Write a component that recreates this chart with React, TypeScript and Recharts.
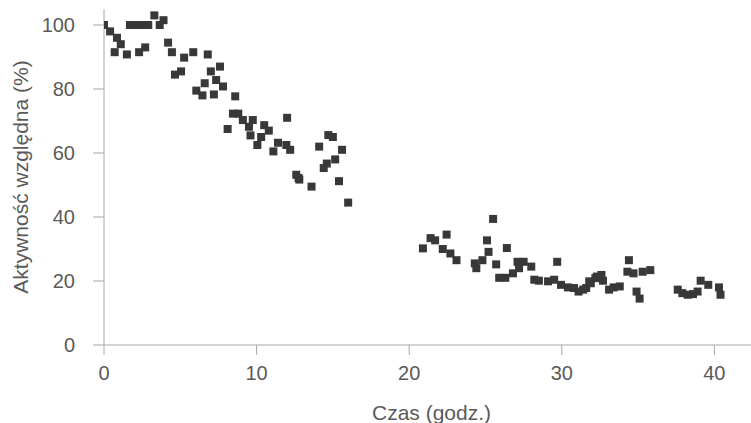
import React from "react";
import { ScatterChart, Scatter, XAxis, YAxis } from "recharts";

const hours: number[] = [
  0, 0.4, 0.85, 1.1, 0.7, 1.5, 1.7, 2.1, 2.5, 2.9, 3.3, 3.9, 3.65, 2.3, 2.7, 4.2, 4.45, 5.25, 5.85, 6.8,
  4.65, 5.05, 7.0, 7.6, 7.35, 6.6, 7.8, 6.05, 6.45, 7.2, 8.6, 8.45, 8.8, 9.1, 9.75, 8.1, 9.5, 10.5, 10.8, 9.6,
  10.3, 10.05, 11.4, 11.95, 12.2, 11.1, 12.0, 14.7, 15.0, 14.1, 15.6, 15.15, 14.6, 14.4, 12.6, 12.75, 12.8, 13.6, 15.4, 16.0,
  20.9, 21.4, 21.7, 22.45, 22.2, 22.7, 23.1, 24.3, 24.4, 24.8, 25.2, 25.1, 25.5, 25.7, 26.4, 25.9, 26.3, 26.8, 27.1, 27.5,
  28.0, 27.2, 28.2, 28.5, 29.1, 29.5, 29.7, 29.95, 30.4, 30.8, 31.1, 31.6, 31.9, 32.3,
  31.4, 31.8, 32.2, 32.6, 32.7, 33.1, 33.4, 33.8, 34.4, 34.3, 34.7, 35.3, 35.8, 34.9, 35.1,
  37.6, 37.9, 38.25, 38.6, 38.9, 39.1, 39.6, 40.3, 40.4,
];

const activity: number[] = [
  100, 98, 96, 94, 91.5, 90.8, 100, 100, 100, 100, 103, 101.5, 100, 91.5, 93, 94.5, 91.5, 89.8, 91.5, 90.8,
  84.5, 85.5, 85.5, 87, 82.8, 81.8, 80.8, 79.5, 78, 78.3, 77.7, 72.3, 72.3, 70.3, 70.3, 67.5, 68.2, 68.7, 67, 65.5,
  65, 62.5, 63.2, 62.5, 61, 60.5, 71, 65.6, 65, 62, 61, 58, 56.7, 55.3, 53.2, 52.2, 51.7, 49.5, 51.2, 44.5,
  30.2, 33.4, 32.7, 34.5, 30, 28.6, 26.5, 25.5, 24, 26.5, 29.1, 32.7, 39.4, 25.2, 30.3, 21, 21, 22.4, 26, 26,
  24.5, 24, 20.4, 20.1, 19.9, 20.4, 26, 18.8, 18, 17.8, 16.7, 17.8, 19.3, 21.4,
  17.3, 19.9, 20.9, 21.9, 20.1, 17.3, 18, 18.3, 26.5, 22.9, 22.4, 22.9, 23.4, 16.7, 14.5,
  17.3, 16.2, 15.7, 15.9, 16.7, 20.1, 18.8, 18, 15.7,
];

const xTicks: number[] = [0, 10, 20, 30, 40];
const yTicks: number[] = [0, 20, 40, 60, 80, 100];

const xTitle = "Czas (godz.)";
const yTitle = "Aktywność względna (%)";

const data = hours.map((h, i) => ({ h, a: activity[i] }));

const FONT = "'Liberation Sans', Arial, sans-serif";
const AXIS = "#a8a8a8";
const TEXT = "#5a5a5a";
const MARK = "#383838";

const SquareMark = (props: any) => {
  const { cx, cy } = props;
  return <rect x={cx - 4} y={cy - 4} width={8} height={8} fill={MARK} />;
};

export default function App() {
  return (
    <div style={{ position: "absolute", left: 0, top: 0, background: "#fff" }}>
      <ScatterChart width={751} height={423} margin={{ top: 9, right: 0, bottom: 0, left: 0 }}>
        <XAxis
          type="number"
          dataKey="h"
          domain={[0, 42.4]}
          ticks={xTicks}
          allowDataOverflow
          height={78}
          stroke={AXIS}
          tickLine={{ stroke: AXIS }}
          tickSize={10}
          tickMargin={11}
          tick={{ fill: TEXT, fontSize: 20, fontFamily: FONT }}
          label={(p: any) => {
            const vb = p.viewBox;
            return (
              <text
                x={vb.x + vb.width / 2 + 4}
                y={vb.y + 67}
                textAnchor="middle"
                dominantBaseline="central"
                fill={TEXT}
                fontSize={21}
                fontFamily={FONT}
              >
                {xTitle}
              </text>
            );
          }}
        />
        <YAxis
          type="number"
          dataKey="a"
          domain={[0, 105]}
          ticks={yTicks}
          allowDataOverflow
          width={104}
          stroke={AXIS}
          tickLine={{ stroke: AXIS }}
          tickSize={11}
          tickMargin={18}
          tick={{ fill: TEXT, fontSize: 20, fontFamily: FONT }}
          label={(p: any) => {
            const vb = p.viewBox;
            const x = vb.x + 20;
            const y = vb.y + vb.height / 2;
            return (
              <text
                x={x}
                y={y}
                transform={`rotate(-90, ${x}, ${y})`}
                textAnchor="middle"
                dominantBaseline="central"
                fill={TEXT}
                fontSize={21}
                fontFamily={FONT}
              >
                {yTitle}
              </text>
            );
          }}
        />
        <Scatter data={data} shape={SquareMark} isAnimationActive={false} />
      </ScatterChart>
    </div>
  );
}
